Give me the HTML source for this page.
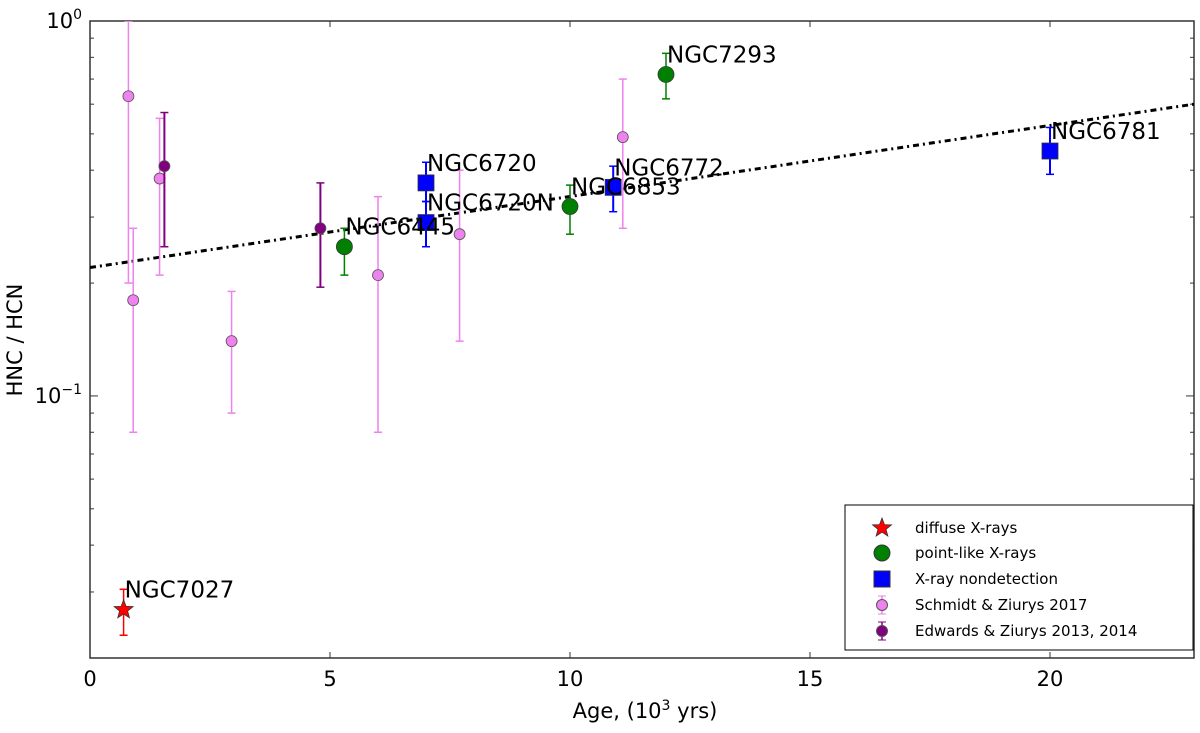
<!DOCTYPE html>
<html><head><meta charset="utf-8"><style>
body{margin:0;background:#fff;}
svg text{font-family:"DejaVu Sans","Liberation Sans",sans-serif;}
</style></head><body>
<svg id="c" width="1200" height="728" viewBox="0 0 1200 728" xmlns="http://www.w3.org/2000/svg"></svg>
<script>
const xTicks=[0,5,10,15,20];
const schX=[0.8,0.9,1.45,2.95,6.0,7.7,11.1];
const schY=[0.63,0.18,0.38,0.14,0.21,0.27,0.49];
const schLo=[0.2,0.08,0.21,0.09,0.08,0.14,0.28];
const schHi=[1.1,0.28,0.55,0.19,0.34,0.40,0.70];
const edwX=[1.55,4.8];
const edwY=[0.41,0.28];
const edwLo=[0.25,0.195];
const edwHi=[0.57,0.37];
const ptNames=["NGC6445","NGC6853","NGC7293"];
const ptX=[5.3,10,12];
const ptY=[0.25,0.32,0.72];
const ptLo=[0.21,0.27,0.62];
const ptHi=[0.28,0.365,0.82];
const ndNames=["NGC6720","NGC6720N","NGC6772","NGC6781"];
const ndX=[7,7,10.9,20];
const ndY=[0.37,0.29,0.36,0.45];
const ndLo=[0.33,0.25,0.31,0.39];
const ndHi=[0.42,0.33,0.41,0.52];
const difNames=["NGC7027"];
const difX=[0.7];
const difY=[0.0269];
const difLo=[0.023];
const difHi=[0.0305];
const fitX=[0,23];
const fitY=[0.22,0.60];

const L=90,R=1194,T=21,B=658,XMAX=23,YMIN=0.02,YMAX=1;
const sx=v=>L+(v/XMAX)*(R-L);
const sy=v=>{v=Math.min(Math.max(v,YMIN),YMAX*1.0);return T+(Math.log10(YMAX)-Math.log10(v))/(Math.log10(YMAX)-Math.log10(YMIN))*(B-T);};
const svg=document.getElementById('c');
const NS="http://www.w3.org/2000/svg";
function mk(tag,attrs,parent){const e=document.createElementNS(NS,tag);for(const k in attrs)e.setAttribute(k,attrs[k]);(parent||svg).appendChild(e);return e;}

// axes frame
const frame=mk('rect',{x:L,y:T,width:R-L,height:B-T,fill:'none',stroke:'#333','stroke-width':1.5});


// x ticks
xTicks.forEach(t=>{
  mk('line',{x1:sx(t),x2:sx(t),y1:B,y2:B-6,stroke:'#333'});
  mk('line',{x1:sx(t),x2:sx(t),y1:T,y2:T+6,stroke:'#333'});
  const tx=mk('text',{x:sx(t),y:B+28,'font-size':21,'text-anchor':'middle'});
  tx.textContent=t;
  
  
});
// y ticks
[0.1,1].forEach(v=>{mk('line',{x1:L,x2:L+8,y1:sy(v),y2:sy(v),stroke:'#333'});mk('line',{x1:R,x2:R-8,y1:sy(v),y2:sy(v),stroke:'#333'});});
[0.02,0.03,0.04,0.05,0.06,0.07,0.08,0.09,0.2,0.3,0.4,0.5,0.6,0.7,0.8,0.9].forEach(v=>{mk('line',{x1:L,x2:L+4,y1:sy(v),y2:sy(v),stroke:'#333'});mk('line',{x1:R,x2:R-4,y1:sy(v),y2:sy(v),stroke:'#333'});});
const y0=mk('text',{x:L-8,y:sy(1)+7,'font-size':21,'text-anchor':'end'});y0.innerHTML='10<tspan dy="-9" font-size="14">0</tspan>';

const y1=mk('text',{x:L-8,y:sy(0.1)+7,'font-size':21,'text-anchor':'end'});y1.innerHTML='10<tspan dy="-9" font-size="14">−1</tspan>';

// axis titles
const xt=mk('text',{x:645,y:718,'font-size':21,'text-anchor':'middle'});xt.innerHTML='Age, (10<tspan dy="-8" font-size="14">3</tspan><tspan dy="8"> yrs)</tspan>';

const yt=mk('text',{x:0,y:0,'font-size':21,'text-anchor':'middle',transform:'translate(22,340) rotate(-90)'});yt.textContent='HNC / HCN';


// clip
const defs=mk('defs',{});const cp=mk('clipPath',{id:'pc'},defs);mk('rect',{x:L,y:T,width:R-L,height:B-T},cp);
const g=mk('g',{'clip-path':'url(#pc)'});


// fit line
const fl=mk('line',{x1:sx(fitX[0]),y1:sy(fitY[0]),x2:sx(fitX[1]),y2:sy(fitY[1]),stroke:'#000','stroke-width':3,'stroke-dasharray':'6 4 2 4'},g);


function err(x,lo,hi,col,w){mk('line',{x1:sx(x),x2:sx(x),y1:sy(lo),y2:sy(hi),stroke:col,'stroke-width':w||1.5},g);
 mk('line',{x1:sx(x)-4,x2:sx(x)+4,y1:sy(lo),y2:sy(lo),stroke:col,'stroke-width':1.5},g);
 mk('line',{x1:sx(x)-4,x2:sx(x)+4,y1:sy(hi),y2:sy(hi),stroke:col,'stroke-width':1.5},g);}
function label(name,x,y){const t=mk('text',{x:sx(x)+1,y:sy(y)-12,'font-size':23},g);t.textContent=name;
 }

schX.forEach((x,i)=>{err(x,schLo[i],schHi[i],'#ee82ee');});
schX.forEach((x,i)=>{const c=mk('circle',{cx:sx(x),cy:sy(schY[i]),r:5.5,fill:'#ee82ee',stroke:'#555','stroke-width':0.8},g);
 });
edwX.forEach((x,i)=>{err(x,edwLo[i],edwHi[i],'#800080',2);const c=mk('circle',{cx:sx(x),cy:sy(edwY[i]),r:5.5,fill:'#800080',stroke:'#555','stroke-width':0.8},g);
 });
ptX.forEach((x,i)=>{err(x,ptLo[i],ptHi[i],'#008000');const c=mk('circle',{cx:sx(x),cy:sy(ptY[i]),r:8,fill:'#008000',stroke:'#333','stroke-width':0.8},g);
 });
ndX.forEach((x,i)=>{err(x,ndLo[i],ndHi[i],'#0000ff',2);const c=mk('rect',{x:sx(x)-8,y:sy(ndY[i])-8,width:16,height:16,fill:'#0000ff',stroke:'#333','stroke-width':0.8},g);
 });
function star(cx,cy,r,parent){let p='';for(let k=0;k<10;k++){const a=-Math.PI/2+k*Math.PI/5;const rr=k%2?r*0.42:r;p+=(cx+rr*Math.cos(a))+','+(cy+rr*Math.sin(a))+' ';}return mk('polygon',{points:p,fill:'#ff0000',stroke:'#333','stroke-width':0.8},parent);}
difX.forEach((x,i)=>{err(x,difLo[i],difHi[i],'#ff0000');const s=star(sx(x),sy(difY[i]),10,g);
 });
ptX.forEach((x,i)=>label(ptNames[i],x,ptY[i]));
ndX.forEach((x,i)=>label(ndNames[i],x,ndY[i]));
difX.forEach((x,i)=>label(difNames[i],x,difY[i]));

// legend
const lg=mk('g',{});
mk('rect',{x:845,y:505,width:348,height:145,fill:'#fff',stroke:'#000','stroke-width':1},lg);
const items=[['diffuse X-rays','star'],['point-like X-rays','g'],['X-ray nondetection','b'],['Schmidt & Ziurys 2017','s'],['Edwards & Ziurys 2013, 2014','e']];
const ly=[528,553,579,605,631];
items.forEach((it,i)=>{const y=ly[i],x=882;const e=mk('g',{},lg);
 
 if(it[1]=='star'){star(x,y,10,e);}
 else if(it[1]=='g'){mk('circle',{cx:x,cy:y,r:8,fill:'#008000',stroke:'#333'},e);}
 else if(it[1]=='b'){mk('rect',{x:x-8,y:y-8,width:16,height:16,fill:'#0000ff',stroke:'#333'},e);}
 else{const col=it[1]=='s'?'#ee82ee':'#800080';mk('line',{x1:x,x2:x,y1:y-9,y2:y+9,stroke:col,'stroke-width':1.5},e);mk('line',{x1:x-4,x2:x+4,y1:y-9,y2:y-9,stroke:col},e);mk('line',{x1:x-4,x2:x+4,y1:y+9,y2:y+9,stroke:col},e);mk('circle',{cx:x,cy:y,r:5.5,fill:col,stroke:'#555'},e);}
 const t=mk('text',{x:915,y:y+5,'font-size':15},e);t.textContent=it[0];});
</script>
</body></html>
